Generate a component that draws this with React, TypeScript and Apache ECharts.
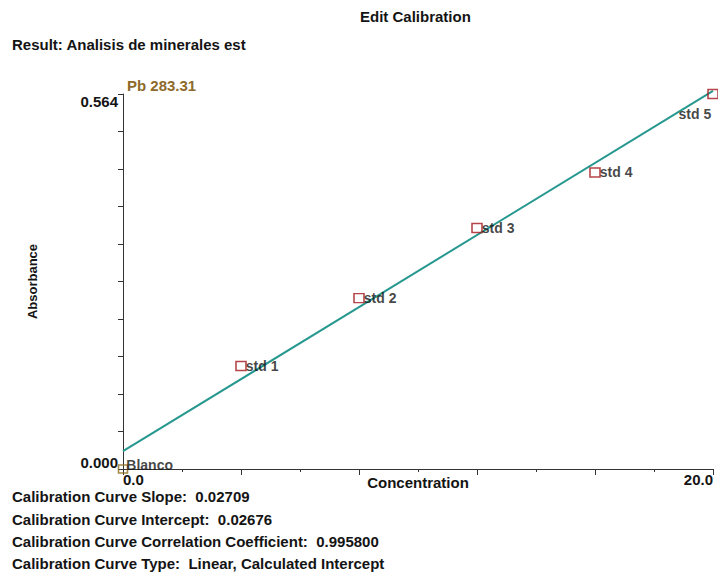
import React, { useEffect, useRef } from "react";
import * as echarts from "echarts";

const stdNames = ["std 1", "std 2", "std 3", "std 4", "std 5"];
const concentrations = [4, 8, 12, 16, 20];
const absorbances = [0.155, 0.257, 0.3625, 0.446, 0.564];
const blankPoint = { name: "Blanco", x: 0, y: 0 };
const fitX = [0, 20];
const fitY = [0.02676, 0.56856];
const xMin = 0;
const xMax = 20;
const yMin = 0;
const yMax = 0.564;
const statsLines = [
  "Calibration Curve Slope:  0.02709",
  "Calibration Curve Intercept:  0.02676",
  "Calibration Curve Correlation Coefficient:  0.995800",
  "Calibration Curve Type:  Linear, Calculated Intercept",
];

const FONT = "'Liberation Sans', Arial, Helvetica, sans-serif";
const INK = "#141414";

export default function App() {
  const ref = useRef<HTMLDivElement>(null);
  useEffect(() => {
    if (!ref.current) return;
    const chart = echarts.init(ref.current, undefined, { renderer: "svg" });
    const bold = (size: number, color = INK) => ({
      fontFamily: FONT,
      fontWeight: "bold" as const,
      fontSize: size,
      color,
    });
    const statTops = [489, 512, 534, 556];
    chart.setOption({
      animation: false,
      backgroundColor: "#ffffff",
      title: [
        { text: "Edit Calibration", left: 360, top: 9, padding: 0, textStyle: bold(15) },
        { text: "Result: Analisis de minerales est", left: 12, top: 37, padding: 0, textStyle: bold(15) },
        { text: "Pb 283.31", left: 127, top: 78, padding: 0, textStyle: bold(15, "#8d6a2a") },
        ...statsLines.map((t, i) => ({
          text: t,
          left: 12,
          top: statTops[i],
          padding: 0,
          textStyle: bold(15),
        })),
      ],
      grid: { left: 123, right: 5, top: 94, bottom: 108, containLabel: false },
      xAxis: {
        type: "value",
        min: xMin,
        max: xMax,
        interval: 4,
        name: "Concentration",
        nameLocation: "middle",
        nameGap: 6,
        nameMoveOverlap: false,
        nameTextStyle: { ...bold(15), verticalAlign: "top" },
        axisLine: { show: true, onZero: false, lineStyle: { color: "#333", width: 1 } },
        axisTick: { show: true, inside: false, length: 6, lineStyle: { color: "#333" } },
        minorTick: { show: true, splitNumber: 2, length: 3, lineStyle: { color: "#333" } },
        splitLine: { show: false },
        axisLabel: {
          ...bold(15),
          margin: 3,
          alignMinLabel: "left",
          alignMaxLabel: "right",
          formatter: (v: number) => (v === xMin || v === xMax ? v.toFixed(1) : ""),
        },
      },
      yAxis: {
        type: "value",
        min: yMin,
        max: yMax,
        interval: 0.0564,
        name: "Absorbance",
        nameLocation: "middle",
        nameGap: 84,
        nameRotate: 90,
        nameMoveOverlap: false,
        nameTextStyle: bold(13),
        axisLine: { show: true, onZero: false, lineStyle: { color: "#333", width: 1 } },
        axisTick: { show: true, inside: false, length: 5, lineStyle: { color: "#333" } },
        splitLine: { show: false },
        axisLabel: {
          ...bold(15),
          margin: 5,
          formatter: (v: number) => {
            if (Math.abs(v - yMin) < 1e-9) return "{lo|" + v.toFixed(3) + "}";
            if (Math.abs(v - yMax) < 1e-9) return "{hi|" + yMax.toFixed(3) + "}";
            return "";
          },
          rich: {
            lo: { ...bold(15), padding: [0, 0, 14, 0] },
            hi: { ...bold(15), padding: [14, 0, 0, 0] },
          },
        },
      },
      series: [
        {
          type: "line",
          data: fitX.map((x, i) => [x, fitY[i]]),
          showSymbol: false,
          clip: false,
          lineStyle: { color: "#27988f", width: 2 },
          z: 2,
          silent: true,
        },
        {
          type: "scatter",
          symbol: "rect",
          symbolSize: [10, 9],
          clip: false,
          z: 4,
          itemStyle: { color: "rgba(255,255,255,0)", borderColor: "#a3161b", borderWidth: 1.5 },
          label: {
            show: true,
            position: "right",
            distance: -1,
            formatter: "{b}",
            ...bold(14),
          },
          data: concentrations.map((c, i) => {
            const item: any = { name: stdNames[i], value: [c, absorbances[i]] };
            if (i === concentrations.length - 1) {
              item.label = { position: "left", distance: -4, offset: [0, 20] };
            }
            return item;
          }),
        },
        {
          type: "scatter",
          symbol: "rect",
          symbolSize: [9, 8],
          clip: false,
          z: 3,
          itemStyle: { color: "rgba(255,255,255,0)", borderColor: "#8d6a1c", borderWidth: 1.5 },
          label: {
            show: true,
            position: "right",
            distance: -2,
            offset: [0, -4],
            formatter: "{b}",
            ...bold(14),
          },
          data: [{ name: blankPoint.name, value: [blankPoint.x, blankPoint.y] }],
        },
      ],
    });
    return () => chart.dispose();
  }, []);
  return (
    <div
      ref={ref}
      style={{ position: "fixed", left: 0, top: 0, width: 718, height: 577, background: "#fff" }}
    />
  );
}
